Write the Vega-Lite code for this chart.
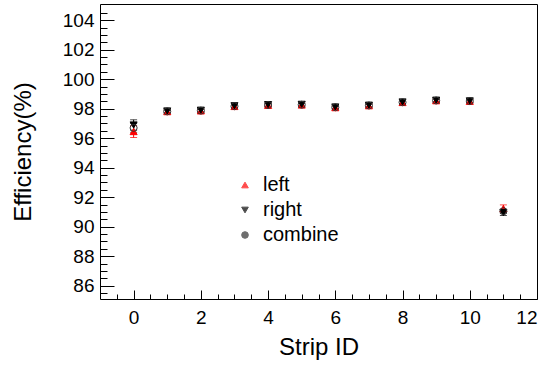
{
  "$schema": "https://vega.github.io/schema/vega-lite/v6.json",
  "width": 437,
  "height": 295,
  "autosize": {"type": "none"},
  "padding": {"left": 100, "top": 4, "right": 18, "bottom": 66},
  "background": "white",
  "config": {
    "font": "Liberation Sans",
    "view": {"stroke": "black", "strokeWidth": 1},
    "axis": {
      "grid": false,
      "domain": false,
      "tickColor": "black",
      "tickWidth": 1,
      "labelFont": "Liberation Sans",
      "labelFontSize": 19,
      "labelColor": "black",
      "titleFont": "Liberation Sans",
      "titleFontSize": 24,
      "titleFontWeight": "normal",
      "titleColor": "black"
    }
  },
  "data": {
    "values": [
      {"strip": 0, "series": "left", "eff": 96.45, "err": 0.4},
      {"strip": 1, "series": "left", "eff": 97.8, "err": 0.12},
      {"strip": 2, "series": "left", "eff": 97.85, "err": 0.12},
      {"strip": 3, "series": "left", "eff": 98.15, "err": 0.12},
      {"strip": 4, "series": "left", "eff": 98.23, "err": 0.12},
      {"strip": 5, "series": "left", "eff": 98.25, "err": 0.12},
      {"strip": 6, "series": "left", "eff": 98.07, "err": 0.12},
      {"strip": 7, "series": "left", "eff": 98.2, "err": 0.12},
      {"strip": 8, "series": "left", "eff": 98.42, "err": 0.12},
      {"strip": 9, "series": "left", "eff": 98.54, "err": 0.12},
      {"strip": 10, "series": "left", "eff": 98.5, "err": 0.12},
      {"strip": 11, "series": "left", "eff": 91.23, "err": 0.25},
      {"strip": 0, "series": "right", "eff": 96.9, "err": 0.35},
      {"strip": 1, "series": "right", "eff": 97.85, "err": 0.12},
      {"strip": 2, "series": "right", "eff": 97.9, "err": 0.12},
      {"strip": 3, "series": "right", "eff": 98.2, "err": 0.12},
      {"strip": 4, "series": "right", "eff": 98.28, "err": 0.12},
      {"strip": 5, "series": "right", "eff": 98.3, "err": 0.12},
      {"strip": 6, "series": "right", "eff": 98.12, "err": 0.12},
      {"strip": 7, "series": "right", "eff": 98.24, "err": 0.12},
      {"strip": 8, "series": "right", "eff": 98.46, "err": 0.12},
      {"strip": 9, "series": "right", "eff": 98.58, "err": 0.12},
      {"strip": 10, "series": "right", "eff": 98.53, "err": 0.12},
      {"strip": 11, "series": "right", "eff": 90.96, "err": 0.2},
      {"strip": 0, "series": "combine", "eff": 96.7, "err": 0.3},
      {"strip": 1, "series": "combine", "eff": 97.82, "err": 0.1},
      {"strip": 2, "series": "combine", "eff": 97.87, "err": 0.1},
      {"strip": 3, "series": "combine", "eff": 98.17, "err": 0.1},
      {"strip": 4, "series": "combine", "eff": 98.25, "err": 0.1},
      {"strip": 5, "series": "combine", "eff": 98.27, "err": 0.1},
      {"strip": 6, "series": "combine", "eff": 98.1, "err": 0.1},
      {"strip": 7, "series": "combine", "eff": 98.22, "err": 0.1},
      {"strip": 8, "series": "combine", "eff": 98.44, "err": 0.1},
      {"strip": 9, "series": "combine", "eff": 98.56, "err": 0.1},
      {"strip": 10, "series": "combine", "eff": 98.52, "err": 0.1},
      {"strip": 11, "series": "combine", "eff": 91.05, "err": 0.15}
    ]
  },
  "resolve": {"axis": {"x": "independent", "y": "independent"}},
  "layer": [
    {
      "mark": {"type": "errorbar", "ticks": {"size": 7}, "thickness": 1},
      "encoding": {
        "x": {
          "field": "strip", "type": "quantitative",
          "scale": {"domain": [-1, 12], "nice": false, "zero": false},
          "axis": {"title": "Strip ID", "values": [0, 2, 4, 6, 8, 10, 12], "tickSize": -9, "labelPadding": 18, "titlePadding": 8, "orient": "bottom"}
        },
        "y": {
          "field": "eff", "type": "quantitative",
          "scale": {"domain": [85.1, 105.1], "nice": false, "zero": false},
          "axis": {"title": "Efficiency(%)", "values": [86, 88, 90, 92, 94, 96, 98, 100, 102, 104], "tickSize": -14, "labelPadding": 20, "titlePadding": 27, "orient": "left"}
        },
        "yError": {"field": "err"},
        "color": {"field": "series", "type": "nominal", "title": null, "scale": {"domain": ["left", "right", "combine"], "range": ["red", "black", "#333333"]}}
      }
    },
    {
      "mark": {"type": "point", "size": 50, "strokeWidth": 1, "opacity": 1},
      "encoding": {
        "x": {"field": "strip", "type": "quantitative", "axis": null},
        "y": {"field": "eff", "type": "quantitative", "axis": null},
        "color": {"field": "series", "type": "nominal", "title": null,
          "scale": {"domain": ["left", "right", "combine"], "range": ["red", "black", "#333333"]},
          "legend": {"orient": "none", "legendX": 135, "legendY": 171, "labelFontSize": 20, "labelFont": "Liberation Sans", "labelColor": "black", "symbolSize": 44, "symbolOpacity": 1, "symbolStrokeWidth": 1, "rowPadding": 5, "labelOffset": 8, "padding": 0,
            "encode": {"symbols": {"update": {"fill": {"scale": "fill", "field": "value"}, "stroke": {"scale": "color", "field": "value"}, "opacity": {"value": 1}, "fillOpacity": {"value": 1}}}}}},
        "shape": {"field": "series", "type": "nominal", "title": null, "scale": {"domain": ["left", "right", "combine"], "range": ["triangle-up", "triangle-down", "circle"]}},
        "fill": {"field": "series", "type": "nominal", "title": null, "scale": {"domain": ["left", "right", "combine"], "range": ["red", "black", "transparent"]}}
      }
    },
    {
      "mark": {"type": "point", "opacity": 0},
      "encoding": {
        "x": {"field": "strip", "type": "quantitative",
          "axis": {"orient": "bottom", "title": null, "labels": false, "tickSize": -5, "values": [-0.5, 0.5, 1, 1.5, 2.5, 3, 3.5, 4.5, 5, 5.5, 6.5, 7, 7.5, 8.5, 9, 9.5, 10.5, 11, 11.5]}},
        "y": {"field": "eff", "type": "quantitative",
          "axis": {"orient": "left", "title": null, "labels": false, "tickSize": -7, "values": [85.5, 86.5, 87, 87.5, 88.5, 89, 89.5, 90.5, 91, 91.5, 92.5, 93, 93.5, 94.5, 95, 95.5, 96.5, 97, 97.5, 98.5, 99, 99.5, 100.5, 101, 101.5, 102.5, 103, 103.5, 104.5]}}
      }
    }
  ]
}
